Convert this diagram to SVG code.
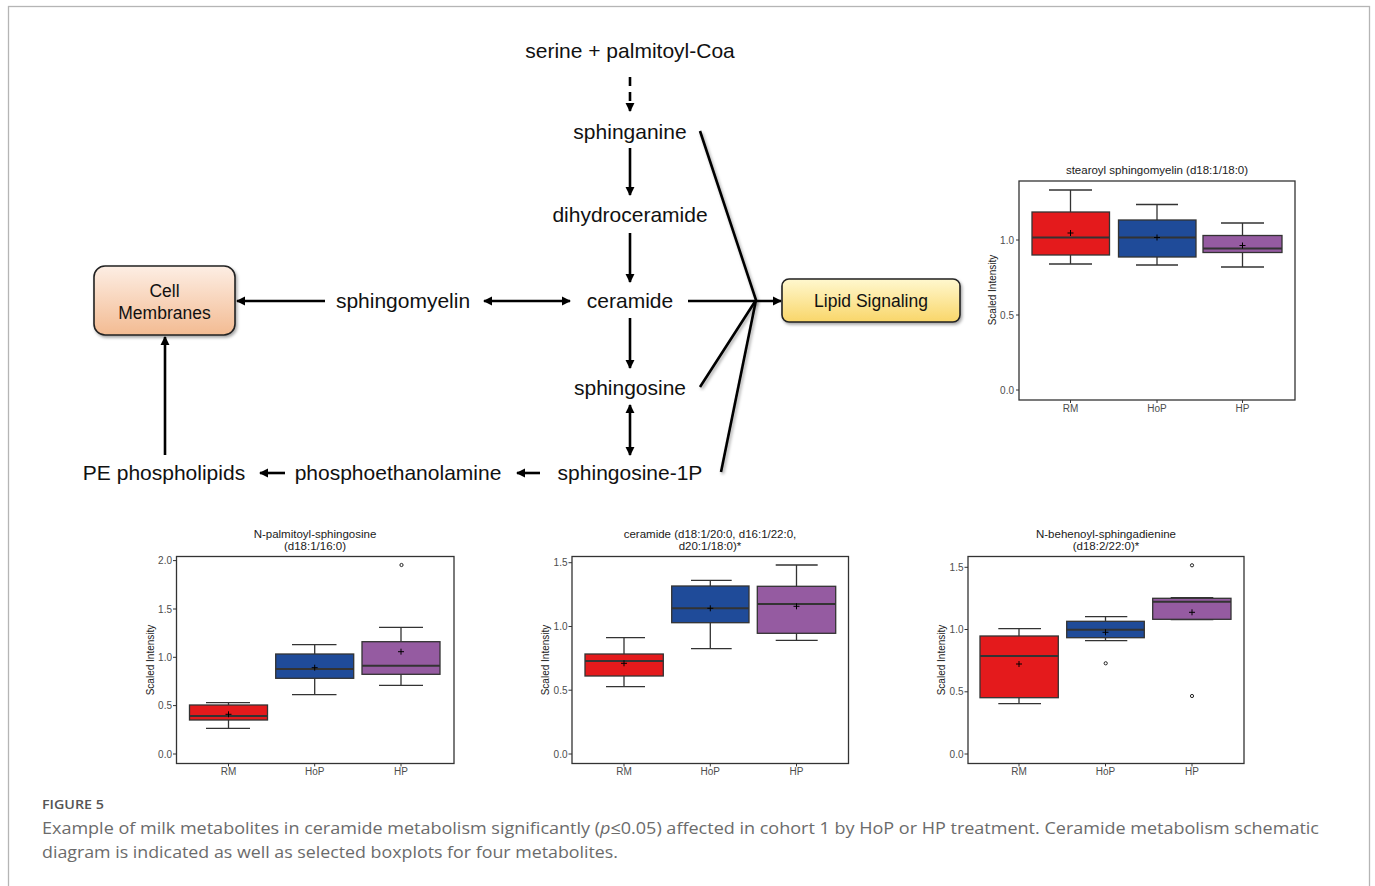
<svg xmlns="http://www.w3.org/2000/svg" width="1375" height="886" viewBox="0 0 1375 886">
<defs>
<style>
.pw{font-family:"Liberation Sans",Arial,sans-serif;font-size:21px;fill:#111;text-anchor:middle}
.bx{font-family:"Liberation Sans",Arial,sans-serif;font-size:17.5px;fill:#111;text-anchor:middle}
.ar{stroke:#000;stroke-width:2.6;fill:none}
.cv{stroke:#000;stroke-width:2.6;fill:none;filter:url(#sh)}
.ttl{font-family:"Liberation Sans",Arial,sans-serif;font-size:11.5px;fill:#1a1a1a;text-anchor:middle}
.tk{font-family:"Liberation Sans",Arial,sans-serif;font-size:10px;fill:#4d4d4d;text-anchor:end}
.xl{font-family:"Liberation Sans",Arial,sans-serif;font-size:10px;fill:#4d4d4d;text-anchor:middle}
.yl{font-family:"Liberation Sans",Arial,sans-serif;font-size:10px;fill:#1a1a1a;text-anchor:middle}
.pan{fill:#fff;stroke:#333;stroke-width:1.3}
.tm{stroke:#333;stroke-width:1}
.wh{stroke:#333;stroke-width:1.3;fill:none}
.med{stroke:#333;stroke-width:2}
.r{fill:#e41a1c;stroke:#333;stroke-width:1.3}
.b{fill:#1f4b99;stroke:#333;stroke-width:1.3}
.p{fill:#955ba1;stroke:#333;stroke-width:1.3}
.mn{stroke:#000;stroke-width:1}
.ol{fill:none;stroke:#222;stroke-width:1}
.cap{font-family:"Open Sans","Liberation Sans",sans-serif;font-size:17px;fill:#6b6b6b}
</style>
<marker id="ah" viewBox="0 0 10 10" refX="9" refY="5" markerWidth="3.6" markerHeight="3.6" orient="auto-start-reverse" markerUnits="strokeWidth">
<path d="M0,0 L10,5 L0,10 z" fill="#000"/>
</marker>
<linearGradient id="gCell" x1="0" y1="0" x2="0" y2="1">
<stop offset="0" stop-color="#fdeee4"/>
<stop offset="1" stop-color="#f3bb92"/>
</linearGradient>
<linearGradient id="gLip" x1="0" y1="0" x2="0" y2="1">
<stop offset="0" stop-color="#fff8cf"/>
<stop offset="1" stop-color="#f9d669"/>
</linearGradient>
<filter id="sh" x="-20%" y="-20%" width="140%" height="140%">
<feDropShadow dx="1.5" dy="2" stdDeviation="1.5" flood-color="#000" flood-opacity="0.35"/>
</filter>
</defs>
<rect x="0" y="0" width="1375" height="886" fill="#fff"/>
<rect x="8.5" y="6.5" width="1361" height="900" fill="none" stroke="#b5b5b5" stroke-width="1.3"/>

<g id="connectors">
<line x1="630" y1="77" x2="630" y2="111" class="ar" stroke-dasharray="9,6" marker-end="url(#ah)"/>
<line x1="630" y1="148" x2="630" y2="195" class="ar" marker-end="url(#ah)"/>
<line x1="630" y1="233" x2="630" y2="282" class="ar" marker-end="url(#ah)"/>
<line x1="630" y1="318" x2="630" y2="368" class="ar" marker-end="url(#ah)"/>
<line x1="630" y1="405" x2="630" y2="455" class="ar" marker-start="url(#ah)" marker-end="url(#ah)"/>
<line x1="484" y1="301" x2="570" y2="301" class="ar" marker-start="url(#ah)" marker-end="url(#ah)"/>
<line x1="325" y1="301" x2="237" y2="301" class="ar" marker-end="url(#ah)"/>
<line x1="165" y1="455" x2="165" y2="337" class="ar" marker-end="url(#ah)"/>
<line x1="540" y1="473" x2="517" y2="473" class="ar" marker-end="url(#ah)"/>
<line x1="285" y1="473" x2="260" y2="473" class="ar" marker-end="url(#ah)"/>
<line x1="688" y1="301" x2="781" y2="301" class="ar" marker-end="url(#ah)"/>
<polyline points="700,131 756,300 700,387" class="cv"/>
<line x1="756" y1="300" x2="721" y2="472" class="cv"/>
</g>

<g id="serine"><text x="630" y="58" class="pw">serine + palmitoyl-Coa</text></g>
<g id="sphinganine"><text x="630" y="139" class="pw">sphinganine</text></g>
<g id="dihydroceramide"><text x="630" y="222" class="pw">dihydroceramide</text></g>
<g id="ceramide"><text x="630" y="308" class="pw">ceramide</text></g>
<g id="sphingosine"><text x="630" y="395" class="pw">sphingosine</text></g>
<g id="sphingosine1p"><text x="630" y="480" class="pw">sphingosine-1P</text></g>
<g id="phosphoethanolamine"><text x="398" y="480" class="pw">phosphoethanolamine</text></g>
<g id="pephospholipids"><text x="164" y="480" class="pw">PE phospholipids</text></g>
<g id="sphingomyelin"><text x="403" y="308" class="pw">sphingomyelin</text></g>

<g id="cellmembranes">
<rect x="94" y="266" width="141" height="69" rx="11" fill="url(#gCell)" stroke="#222" stroke-width="1.6" filter="url(#sh)"/>
<text x="164.5" y="297" class="bx">Cell</text>
<text x="164.5" y="319" class="bx">Membranes</text>
</g>
<g id="lipidsignaling">
<rect x="782" y="279" width="178" height="43" rx="7" fill="url(#gLip)" stroke="#222" stroke-width="1.6" filter="url(#sh)"/>
<text x="871" y="307" class="bx">Lipid Signaling</text>
</g>

<!-- plot 1: stearoyl sphingomyelin ; y = 390 - 150 v -->
<g id="plot-stearoyl">
<text x="1157" y="174" class="ttl">stearoyl sphingomyelin (d18:1/18:0)</text>
<rect x="1019" y="181" width="276" height="219" class="pan"/>
<line x1="1016" y1="240" x2="1019" y2="240" class="tm"/><text x="1014" y="243.5" class="tk">1.0</text>
<line x1="1016" y1="315" x2="1019" y2="315" class="tm"/><text x="1014" y="318.5" class="tk">0.5</text>
<line x1="1016" y1="390" x2="1019" y2="390" class="tm"/><text x="1014" y="393.5" class="tk">0.0</text>
<text transform="translate(996,290) rotate(-90)" class="yl">Scaled Intensity</text>
<line x1="1070.5" y1="400" x2="1070.5" y2="403" class="tm"/><text x="1070.5" y="411.5" class="xl">RM</text>
<line x1="1157" y1="400" x2="1157" y2="403" class="tm"/><text x="1157" y="411.5" class="xl">HoP</text>
<line x1="1242.5" y1="400" x2="1242.5" y2="403" class="tm"/><text x="1242.5" y="411.5" class="xl">HP</text>
<path d="M1070.5,212 V190 M1049,190 H1092 M1070.5,255 V264 M1049,264 H1092" class="wh"/>
<rect x="1032" y="212" width="77.5" height="43" class="r"/>
<line x1="1032" y1="237.5" x2="1109.5" y2="237.5" class="med"/>
<path d="M1067.5,233 H1073.5 M1070.5,230 V236" class="mn"/>
<path d="M1157,220 V204.5 M1136,204.5 H1178 M1157,257 V265 M1136,265 H1178" class="wh"/>
<rect x="1118.5" y="220" width="77.5" height="37" class="b"/>
<line x1="1118.5" y1="237.5" x2="1196" y2="237.5" class="med"/>
<path d="M1154,237.5 H1160 M1157,234.5 V240.5" class="mn"/>
<path d="M1242.5,235.5 V223 M1221,223 H1264 M1242.5,252.5 V267 M1221,267 H1264" class="wh"/>
<rect x="1203" y="235.5" width="79" height="17" class="p"/>
<line x1="1203" y1="248.5" x2="1282" y2="248.5" class="med"/>
<path d="M1239.5,245.5 H1245.5 M1242.5,242.5 V248.5" class="mn"/>
</g>

<!-- plot 2: N-palmitoyl-sphingosine ; y = 754 - 96.7 v -->
<g id="plot-palmitoyl">
<text x="315" y="538" class="ttl">N-palmitoyl-sphingosine</text>
<text x="315" y="550" class="ttl">(d18:1/16:0)</text>
<rect x="176.5" y="556.5" width="277.5" height="207" class="pan"/>
<line x1="173" y1="560.6" x2="176.5" y2="560.6" class="tm"/><text x="172" y="564" class="tk">2.0</text>
<line x1="173" y1="609" x2="176.5" y2="609" class="tm"/><text x="172" y="612.5" class="tk">1.5</text>
<line x1="173" y1="657.3" x2="176.5" y2="657.3" class="tm"/><text x="172" y="660.8" class="tk">1.0</text>
<line x1="173" y1="705.6" x2="176.5" y2="705.6" class="tm"/><text x="172" y="709" class="tk">0.5</text>
<line x1="173" y1="754" x2="176.5" y2="754" class="tm"/><text x="172" y="757.5" class="tk">0.0</text>
<text transform="translate(154,660) rotate(-90)" class="yl">Scaled Intensity</text>
<line x1="228.5" y1="763.5" x2="228.5" y2="766.5" class="tm"/><text x="228.5" y="774.5" class="xl">RM</text>
<line x1="314.7" y1="763.5" x2="314.7" y2="766.5" class="tm"/><text x="314.7" y="774.5" class="xl">HoP</text>
<line x1="401" y1="763.5" x2="401" y2="766.5" class="tm"/><text x="401" y="774.5" class="xl">HP</text>
<path d="M228.5,705 V702.7 M206,702.7 H250 M228.5,720 V728.3 M206,728.3 H250" class="wh"/>
<rect x="189.5" y="705" width="78" height="15" class="r"/>
<line x1="189.5" y1="716" x2="267.5" y2="716" class="med"/>
<path d="M225.5,714.3 H231.5 M228.5,711.3 V717.3" class="mn"/>
<path d="M314.7,654 V644.7 M292,644.7 H336.5 M314.7,678.3 V694.7 M292,694.7 H336.5" class="wh"/>
<rect x="275.7" y="654" width="78" height="24.3" class="b"/>
<line x1="275.7" y1="669" x2="353.7" y2="669" class="med"/>
<path d="M311.7,667.7 H317.7 M314.7,664.7 V670.7" class="mn"/>
<path d="M401,641.7 V627.3 M379,627.3 H423 M401,674.3 V685.3 M379,685.3 H423" class="wh"/>
<rect x="362" y="641.7" width="78" height="32.6" class="p"/>
<line x1="362" y1="665.7" x2="440" y2="665.7" class="med"/>
<path d="M398,651.7 H404 M401,648.7 V654.7" class="mn"/>
<circle cx="401.5" cy="565" r="1.6" class="ol"/>
</g>

<!-- plot 3: ceramide ; y = 754 - 127.5 v -->
<g id="plot-ceramide">
<text x="710" y="538" class="ttl">ceramide (d18:1/20:0, d16:1/22:0,</text>
<text x="710" y="550" class="ttl">d20:1/18:0)*</text>
<rect x="572" y="556.5" width="276.5" height="207" class="pan"/>
<line x1="568.5" y1="562.7" x2="572" y2="562.7" class="tm"/><text x="567.5" y="566.2" class="tk">1.5</text>
<line x1="568.5" y1="626.5" x2="572" y2="626.5" class="tm"/><text x="567.5" y="630" class="tk">1.0</text>
<line x1="568.5" y1="690.2" x2="572" y2="690.2" class="tm"/><text x="567.5" y="693.7" class="tk">0.5</text>
<line x1="568.5" y1="754" x2="572" y2="754" class="tm"/><text x="567.5" y="757.5" class="tk">0.0</text>
<text transform="translate(549,660) rotate(-90)" class="yl">Scaled Intensity</text>
<line x1="624" y1="763.5" x2="624" y2="766.5" class="tm"/><text x="624" y="774.5" class="xl">RM</text>
<line x1="710.3" y1="763.5" x2="710.3" y2="766.5" class="tm"/><text x="710.3" y="774.5" class="xl">HoP</text>
<line x1="796.5" y1="763.5" x2="796.5" y2="766.5" class="tm"/><text x="796.5" y="774.5" class="xl">HP</text>
<path d="M624,654 V637.7 M606,637.7 H645 M624,676 V686.7 M606,686.7 H645" class="wh"/>
<rect x="585" y="654" width="78.3" height="22" class="r"/>
<line x1="585" y1="661" x2="663.3" y2="661" class="med"/>
<path d="M621,663.3 H627 M624,660.3 V666.3" class="mn"/>
<path d="M710.3,586 V580.3 M691,580.3 H731.7 M710.3,622.7 V648.7 M691,648.7 H731.7" class="wh"/>
<rect x="671.7" y="586" width="77.3" height="36.7" class="b"/>
<line x1="671.7" y1="608.3" x2="749" y2="608.3" class="med"/>
<path d="M707.3,608.3 H713.3 M710.3,605.3 V611.3" class="mn"/>
<path d="M796.5,586.3 V565 M775.7,565 H817.7 M796.5,633.3 V640.3 M775.7,640.3 H817.7" class="wh"/>
<rect x="757.3" y="586.3" width="78.4" height="47" class="p"/>
<line x1="757.3" y1="604" x2="835.7" y2="604" class="med"/>
<path d="M793.5,606.3 H799.5 M796.5,603.3 V609.3" class="mn"/>
</g>

<!-- plot 4: N-behenoyl-sphingadienine ; y = 754 - 124.5 v -->
<g id="plot-behenoyl">
<text x="1106" y="538" class="ttl">N-behenoyl-sphingadienine</text>
<text x="1106" y="550" class="ttl">(d18:2/22:0)*</text>
<rect x="968" y="556.5" width="276" height="207" class="pan"/>
<line x1="964.5" y1="567.3" x2="968" y2="567.3" class="tm"/><text x="963.5" y="570.8" class="tk">1.5</text>
<line x1="964.5" y1="629.5" x2="968" y2="629.5" class="tm"/><text x="963.5" y="633" class="tk">1.0</text>
<line x1="964.5" y1="691.8" x2="968" y2="691.8" class="tm"/><text x="963.5" y="695.3" class="tk">0.5</text>
<line x1="964.5" y1="754" x2="968" y2="754" class="tm"/><text x="963.5" y="757.5" class="tk">0.0</text>
<text transform="translate(945,660) rotate(-90)" class="yl">Scaled Intensity</text>
<line x1="1019" y1="763.5" x2="1019" y2="766.5" class="tm"/><text x="1019" y="774.5" class="xl">RM</text>
<line x1="1105.5" y1="763.5" x2="1105.5" y2="766.5" class="tm"/><text x="1105.5" y="774.5" class="xl">HoP</text>
<line x1="1192" y1="763.5" x2="1192" y2="766.5" class="tm"/><text x="1192" y="774.5" class="xl">HP</text>
<path d="M1019,636 V628.7 M998.3,628.7 H1041 M1019,697.7 V703.7 M998.3,703.7 H1041" class="wh"/>
<rect x="980" y="636" width="78.3" height="61.7" class="r"/>
<line x1="980" y1="656" x2="1058.3" y2="656" class="med"/>
<path d="M1016,664 H1022 M1019,661 V667" class="mn"/>
<path d="M1105.5,621.3 V616.7 M1085,616.7 H1127.3 M1105.5,637.7 V640.7 M1085,640.7 H1127.3" class="wh"/>
<rect x="1066.7" y="621.3" width="77.6" height="16.4" class="b"/>
<line x1="1066.7" y1="629.7" x2="1144.3" y2="629.7" class="med"/>
<path d="M1102.5,632.3 H1108.5 M1105.5,629.3 V635.3" class="mn"/>
<circle cx="1105.7" cy="663.3" r="1.6" class="ol"/>
<path d="M1170.7,597.6 H1213.3 M1170.7,619.6 H1213.3" class="wh"/>
<rect x="1152.7" y="598.3" width="78.3" height="21" class="p"/>
<line x1="1152.7" y1="601.7" x2="1231" y2="601.7" class="med"/>
<path d="M1189,612.3 H1195 M1192,609.3 V615.3" class="mn"/>
<circle cx="1192" cy="565.3" r="1.6" class="ol"/>
<circle cx="1192" cy="696" r="1.6" class="ol"/>
</g>

<g id="caption">
<text x="42" y="809" font-family="'Open Sans','Liberation Sans',sans-serif" font-size="13" font-weight="600" fill="#555" textLength="62" lengthAdjust="spacingAndGlyphs">FIGURE 5</text>
<text x="42" y="834" class="cap" textLength="1277" lengthAdjust="spacingAndGlyphs">Example of milk metabolites in ceramide metabolism significantly (<tspan font-style="italic">p</tspan>≤0.05) affected in cohort 1 by HoP or HP treatment. Ceramide metabolism schematic</text>
<text x="42" y="858" class="cap" textLength="576" lengthAdjust="spacingAndGlyphs">diagram is indicated as well as selected boxplots for four metabolites.</text>
</g>
</svg>
